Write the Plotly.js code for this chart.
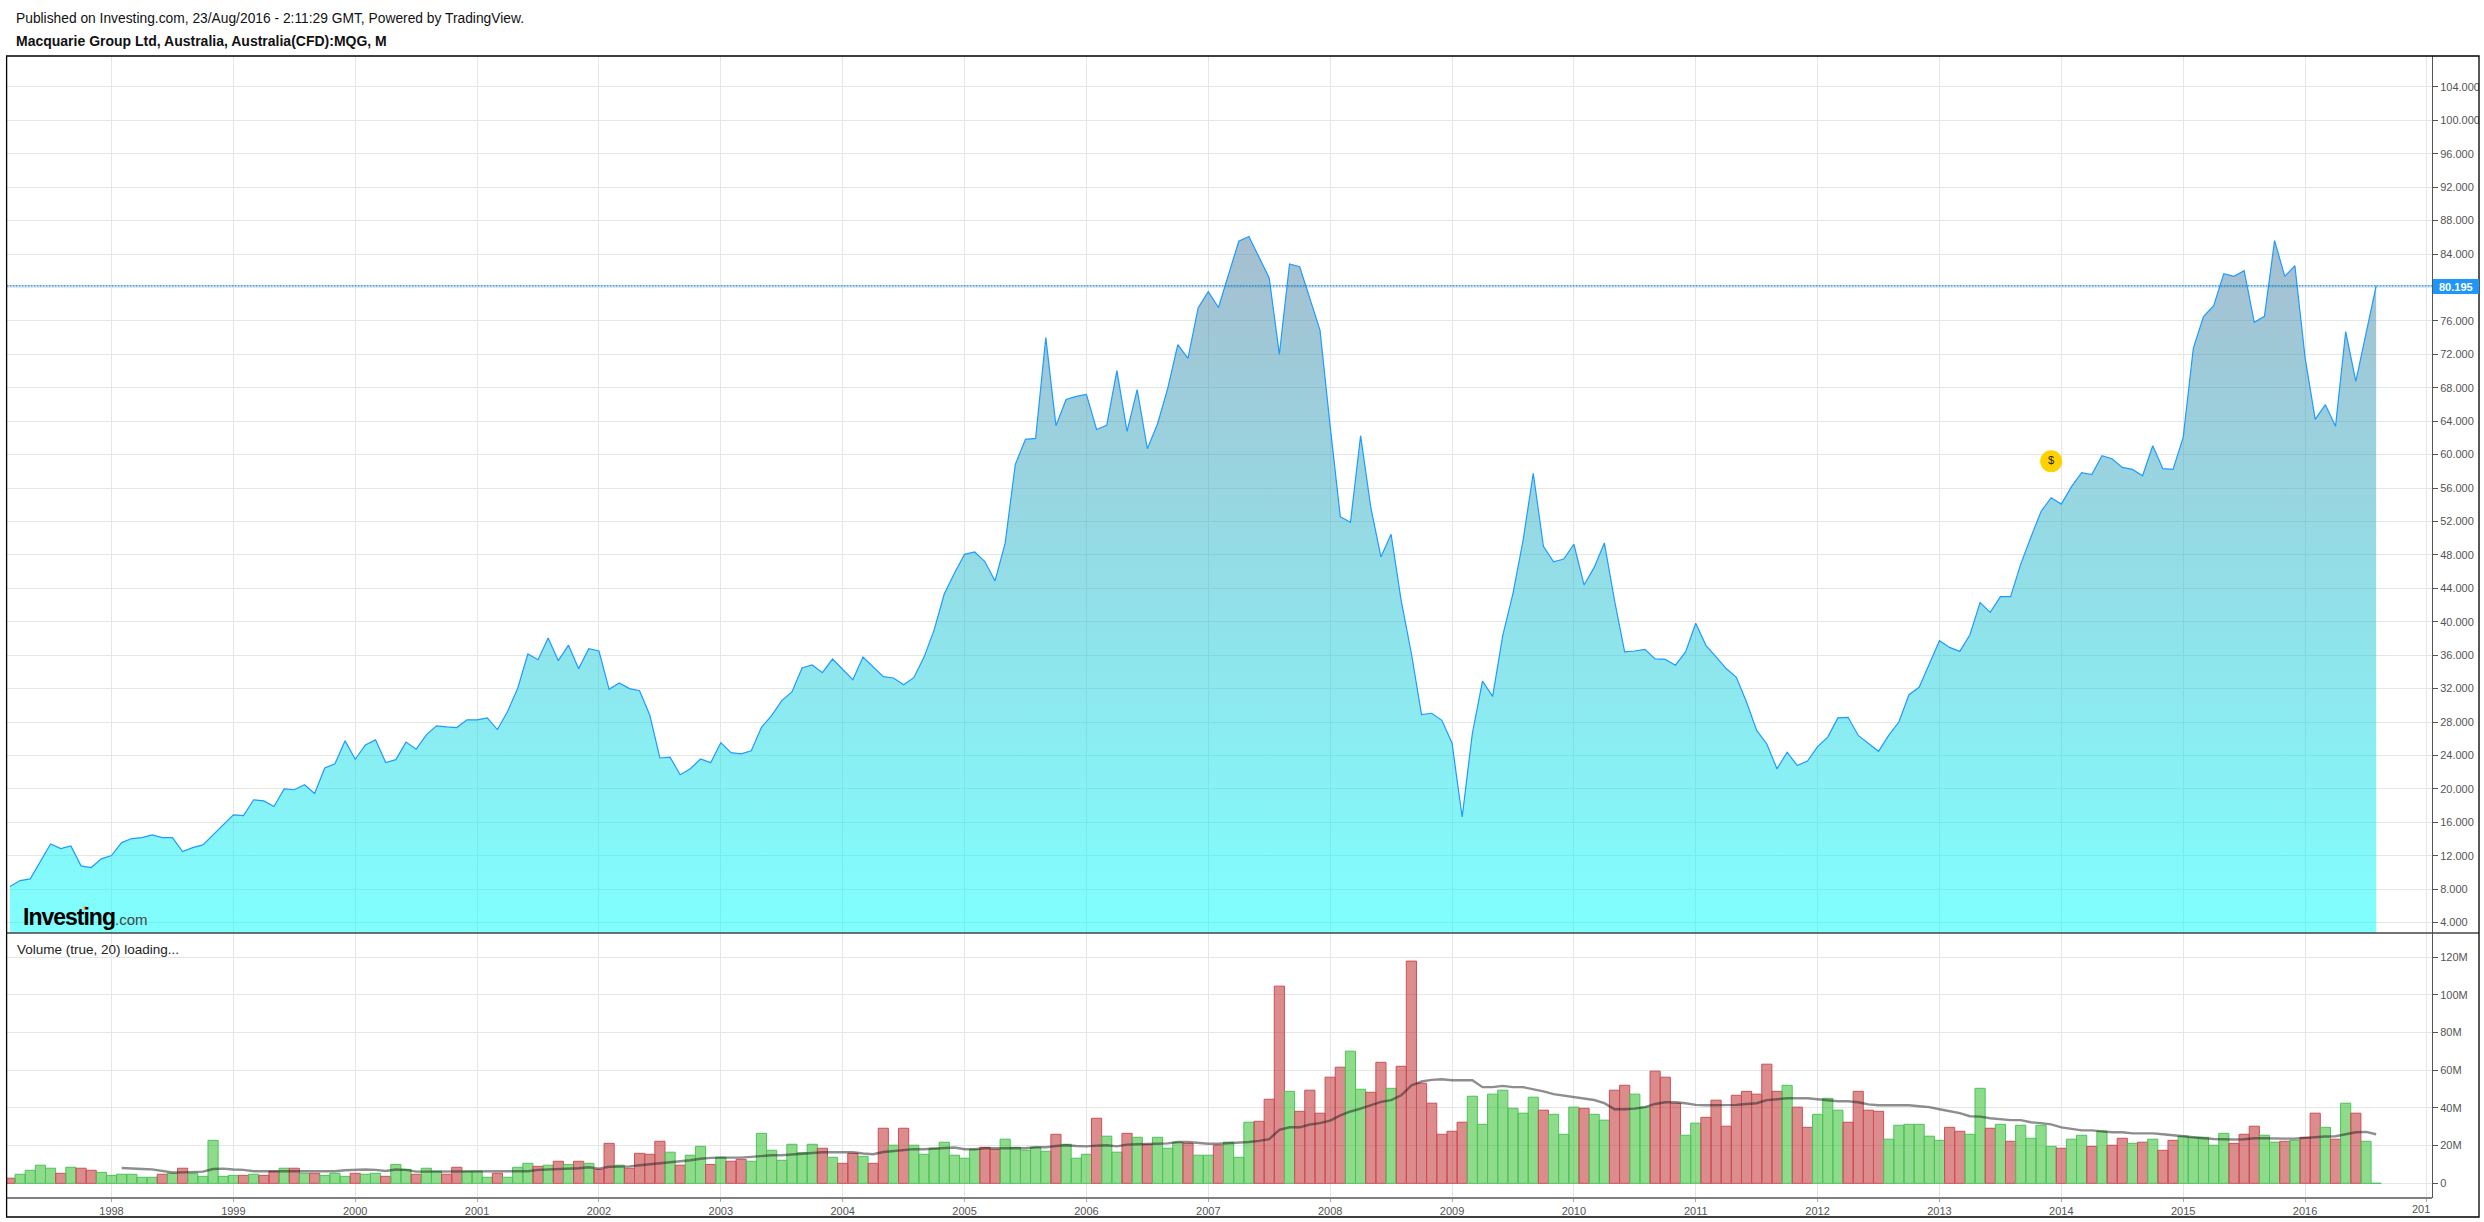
<!DOCTYPE html>
<html>
<head>
<meta charset="utf-8">
<script src="https://cdn.plot.ly/plotly-3.0.1.min.js"></script>
<style>html,body{margin:0;padding:0;background:#fff;overflow:hidden}#chart{width:2484px;height:1222px}</style>
</head>
<body>
<div id="chart"></div>
<script>
// Monthly closes, Mar 1997 .. Aug 2016
const closePrices = [
8.32,9.03,9.23,11.31,13.42,12.87,13.18,10.79,10.59,11.63,
12.03,13.58,14.06,14.18,14.5,14.18,14.18,12.5,12.98,13.3,
14.5,15.7,16.9,16.8,18.7,18.57,17.9,20.0,19.9,20.5,
19.45,22.5,23.0,25.75,23.55,25.27,25.87,23.15,23.5,25.6,
24.75,26.47,27.54,27.42,27.34,28.26,28.26,28.5,27.1,29.26,
32.05,36.14,35.46,38.06,35.34,37.2,34.39,36.78,36.5,31.91,
32.67,32.0,31.75,28.84,23.7,23.8,21.7,22.42,23.58,23.14,
25.53,24.33,24.2,24.57,27.37,28.76,30.56,31.6,34.47,34.83,
33.9,35.54,34.3,33.07,35.78,34.63,33.43,33.27,32.47,33.31,
35.74,39.0,43.32,45.8,48.07,48.35,47.2,44.88,49.4,58.84,
61.82,61.94,73.99,63.46,66.6,66.97,67.2,63.0,63.5,70.04,
62.78,67.77,60.7,63.66,67.9,73.15,71.5,77.54,79.5,77.6,
81.6,85.52,86.1,83.6,81.13,72.0,82.8,82.48,78.8,74.9,
63.4,52.57,51.9,62.26,53.7,47.75,50.47,42.5,36.2,28.9,
29.05,28.2,25.5,16.64,26.6,32.9,31.08,38.38,43.37,49.75,
57.77,49.03,47.16,47.5,49.27,44.4,46.5,49.43,42.57,36.39,
36.5,36.7,35.55,35.5,34.8,36.39,39.82,37.18,35.8,34.4,
33.35,30.4,27.0,25.38,22.4,24.38,22.8,23.34,25.06,26.2,
28.5,28.57,26.4,25.4,24.5,26.4,28.0,31.27,32.15,34.94,
37.73,36.93,36.45,38.45,42.28,41.12,43.0,43.0,46.9,50.1,
53.2,54.84,54.08,56.16,57.83,57.6,59.87,59.5,58.47,58.23,
57.47,61.06,58.31,58.23,62.06,72.75,76.5,77.82,81.65,81.33,
82.0,75.82,76.54,85.6,81.33,82.6,71.63,64.22,65.97,63.38,
74.7,68.76,74.4,80.195
];
// Monthly volume, millions
const volumes = [
2.7,4.8,6.9,9.6,8,5.3,8.5,8,6.9,5.8,
4.2,4.8,4.8,3.2,3.2,4.8,5.3,8,5.3,3.7,
22.8,3.7,4.2,4.2,4.8,4.2,6.4,8,8,5.3,
5.3,4.2,5.3,3.7,5.3,4.8,5.3,3.7,10,7.4,
4.8,8,6.4,4.8,8.5,6.4,6.4,3.2,5.3,3.2,
8.5,10.6,9,9.6,11.7,10,11.7,10.6,7.4,21.2,
9.6,8,15.9,15.4,22.3,16.5,9.6,14.9,19.6,10,
13.8,11.7,12.7,11.7,26.5,17.5,12.2,20.7,16.2,20.7,
18.6,13.8,10.6,15.9,14.3,10.6,29.2,20.2,29.2,20.2,
15.4,18.6,21.8,14.9,13.3,18,19.1,18,23.4,19.1,
17.5,19.1,17,26,20.7,13.3,15.4,34.5,25,16.5,
26.5,24.4,20.7,24.4,18.6,21.8,21.2,14.9,14.9,20.2,
21.8,13.8,32.4,32.9,44.6,104.6,48.8,38.2,49.4,37.2,
56.3,61.6,70.1,49.9,48.3,64.2,50.4,62.1,117.9,53.1,
42.5,26,27.6,32.4,46.2,31.3,47.3,49.4,39.8,37.2,
45.7,38.8,36.6,26,40.4,39.8,36.6,33.5,49.4,52,
47.3,40.4,59.5,56.3,42.5,25.5,31.9,35,44.1,30.3,
46.7,48.8,47.3,63.2,48.8,52,40.4,29.7,36.6,45.1,
38.8,32.4,48.8,38.8,38.2,23.4,30.8,31.3,31.3,25,
22.8,29.7,27.6,26,50.4,29.2,31.3,22.3,30.8,23.9,
30.8,19.6,18.6,23.4,25.5,19.6,27.6,20.2,23.9,21.2,
21.8,23.4,17.5,22.8,25,24.4,24.4,20.2,26.5,21.2,
26,30.3,25.5,21.8,22.3,22.8,24.4,37.2,29.7,23.4,
42.5,37.2,22.3,0
];
// Direction of each volume bar: g = up month, r = down month
const volumeDirection = (
"rggggrgrrg"+"gggggrgrgg"+"gggrgrrgrg"+"rgggrggrgg"+"rggrrgggrg"+
"ggrgrgrgrr"+"grrrrgrggr"+"grrggggggg"+"rgrrgrrgrg"+"ggggggrrgg"+
"gggrgggrgg"+"rgrgggrggr"+"gggrrrgrrr"+"rrggrrgrrr"+"rrrrgggggg"+
"grgggrggrr"+"ggrrrggrrr"+"rrrrrgrrgg"+"grrrrggggg"+"grrggrgrgg"+
"ggrggrgrrg"+"rgrrgggggr"+"rrggrgrrgr"+"grgg").split("");
// Volume moving average (millions), from month 11 onward
const maFirstMonth = 11;
const volumeMA = [
8.1,8.0,7.6,7.4,6.5,5.7,5.8,6.0,6.2,7.6,7.8,7.3,7.1,6.4,
6.4,6.4,6.4,6.4,6.4,6.4,6.4,6.4,6.9,7.3,7.3,7.1,6.5,7.3,7.1,
6.2,6.2,6.2,6.2,6.2,6.2,6.2,6.2,6.2,6.2,6.2,6.4,7.1,7.3,7.4,7.4,
8.0,8.5,7.8,8.8,9.0,9.0,9.6,10.1,10.6,11.2,11.7,12.2,13.0,13.5,
13.6,13.5,13.6,14.0,14.5,14.9,14.9,15.4,15.9,16.1,16.5,
16.5,16.5,16.5,15.8,15.4,16.6,17.2,17.7,18.1,18.1,18.4,18.6,19.0,
18.1,18.1,18.6,18.6,18.6,18.6,18.6,19.1,19.1,19.8,20.2,19.8,19.6,
20.0,20.2,19.6,20.5,20.7,20.7,21.0,21.2,21.9,21.9,21.4,21.0,21.0,
21.2,21.4,21.9,22.5,23.4,28.3,29.7,29.7,31.2,31.9,33.3,36.0,38.1,
39.6,41.4,43.2,44.1,46.7,51.9,54.0,54.9,55.2,54.7,54.7,54.7,51.0,
51.0,51.7,51.0,51.0,50.1,48.8,47.3,46.5,45.8,44.9,44.2,42.5,39.3,
39.3,39.6,40.4,42.1,
43.0,43.0,42.5,41.6,41.4,41.4,41.4,41.6,42.1,42.5,44.1,44.6,45.1,
45.1,45.1,44.6,44.1,43.5,43.5,43.0,41.9,41.4,41.4,41.4,41.4,40.9,
40.4,39.3,38.2,37.2,35.6,35.4,34.5,34.0,33.5,33.5,32.4,31.9,31.3,
29.7,28.7,28.1,28.1,27.6,27.1,27.1,26.5,26.5,26.5,26.0,25.5,24.6,
24.4,23.9,23.5,23.2,23.2,23.4,23.9,23.9,23.7,23.7,23.7,24.1,24.8,
24.8,25.0,26.2,27.1,27.3,26.0
];
const lastPrice = 80.195;
const lastPriceLabel = "80.195";
const priceTicks = [4,8,12,16,20,24,28,32,36,40,44,48,52,56,60,64,68,72,76,80,84,88,92,96,100,104];
const volumeTicks = [0,20,40,60,80,100,120];
const volumeTickText = ["0","20M","40M","60M","80M","100M","120M"];
const yearTicks = [10,22,34,46,58,70,82,94,106,118,130,142,154,166,178,190,202,214,226,238];
const yearLabels = ["1998","1999","2000","2001","2002","2003","2004","2005","2006","2007","2008","2009","2010","2011","2012","2013","2014","2015","2016",""];
const clippedYearLabel = "201";
const dividendMonth = 201, dividendLevel = 59.2, dividendMark = "$";
const publishedText = "Published on Investing.com, 23/Aug/2016 - 2:11:29 GMT, Powered by TradingView.";
const chartTitle = "Macquarie Group Ltd, Australia, Australia(CFD):MQG, M";
const volumeLegend = "Volume (true, 20) loading...";

const W = 2484, H = 1222;
const px = x => x / W, py = y => 1 - y / H;
const months = closePrices.map((_, i) => i);
const FONT = '"Liberation Sans", Arial, sans-serif';
const GRID = '#e6e6e6', AXIS = '#555555';

const traces = [
  {type:'scatter', mode:'lines', x:months, y:closePrices, xaxis:'x', yaxis:'y',
   line:{color:'#1e9bff', width:1.2}, fill:'tozeroy',
   fillgradient:{type:'vertical', start:2.76, stop:86.1,
     colorscale:[[0,'rgba(0,255,255,0.5)'],[1,'rgba(76,125,160,0.5)']]},
   hoverinfo:'skip'},
  {type:'scatter', mode:'markers+text', x:[dividendMonth], y:[dividendLevel], xaxis:'x', yaxis:'y',
   marker:{size:22, color:'#ffd100'}, text:[dividendMark], textposition:'middle center',
   textfont:{family:FONT, size:11, color:'#222'}, hoverinfo:'skip'},
  {type:'bar', x:months, y:volumes, xaxis:'x', yaxis:'y2', width:1,
   marker:{color:volumeDirection.map(d => d==='g' ? 'rgba(29,183,25,0.5)' : 'rgba(185,25,25,0.5)'),
           line:{width:1, color:volumeDirection.map(d => d==='g' ? '#4cc45a' : '#cc5058')}},
   hoverinfo:'skip'},
  {type:'scatter', mode:'lines', x:volumeMA.map((_, i) => i + maFirstMonth), y:volumeMA, xaxis:'x', yaxis:'y2',
   line:{color:'rgba(30,30,30,0.5)', width:2.4}, hoverinfo:'skip'}
];

const layout = {
  width:W, height:H, autosize:false, showlegend:false,
  margin:{l:0,r:0,t:0,b:0,pad:0}, paper_bgcolor:'#fff', plot_bgcolor:'#fff',
  font:{family:FONT, size:11, color:'#555'}, bargap:0,
  xaxis:{domain:[px(6.6),px(2432)], range:[-0.33,238.5], anchor:'y2',
    tickmode:'array', tickvals:yearTicks, ticktext:yearLabels,
    showgrid:true, gridcolor:GRID, gridwidth:1, zeroline:false, showline:false,
    ticks:'outside', ticklen:3, tickcolor:'#aaa', tickfont:{family:FONT,size:11,color:'#555'}},
  yaxis:{domain:[py(933),py(56)], range:[2.76,107.69], anchor:'x', side:'right',
    tickmode:'array', tickvals:priceTicks, tickformat:'.3f',
    showgrid:true, gridcolor:GRID, gridwidth:1, zeroline:false, showline:true, linecolor:AXIS, linewidth:1,
    ticks:'outside', ticklen:5, tickcolor:AXIS, tickfont:{family:FONT,size:11,color:'#555'}},
  yaxis2:{domain:[py(1198),py(933)], range:[-7.8,132.8], anchor:'x', side:'right',
    tickmode:'array', tickvals:volumeTicks, ticktext:volumeTickText,
    showgrid:true, gridcolor:GRID, gridwidth:1, zeroline:false, showline:true, linecolor:AXIS, linewidth:1,
    ticks:'outside', ticklen:5, tickcolor:AXIS, tickfont:{family:FONT,size:11,color:'#555'}},
  shapes:[
    {type:'line', xref:'x', yref:'y', x0:-0.33, x1:238.5, y0:lastPrice, y1:lastPrice,
     line:{color:'#0a84e0', width:1.2, dash:'2px,1px'}},
    {type:'line', xref:'paper', yref:'paper', x0:px(6.6), x1:px(2479), y0:py(933), y1:py(933), line:{color:'#444', width:1.3}},
    {type:'line', xref:'paper', yref:'paper', x0:px(6.6), x1:px(2432), y0:py(1198), y1:py(1198), line:{color:'#555', width:1.3}},
    {type:'rect', xref:'paper', yref:'paper', x0:px(2479), x1:1, y0:py(56), y1:py(1217), fillcolor:'#fff', line:{width:0}},
    {type:'rect', xref:'paper', yref:'paper', x0:px(6.6), x1:px(2479), y0:py(56), y1:py(1217), line:{color:'#000', width:1.3}},
    {type:'rect', xref:'paper', yref:'paper', x0:px(2433), x1:px(2479), y0:py(279), y1:py(294), fillcolor:'#1e96fc', line:{width:0}},
    {type:'circle', xref:'paper', yref:'paper', x0:px(83.5), x1:px(86.5), y0:py(910), y1:py(906), fillcolor:'#f5a623', line:{width:0}}
  ],
  annotations:[
    {xref:'paper', yref:'paper', x:px(14), y:py(18), xanchor:'left', yanchor:'middle', showarrow:false,
     text:publishedText, font:{family:FONT,size:13.8,color:'#111'}},
    {xref:'paper', yref:'paper', x:px(14), y:py(41), xanchor:'left', yanchor:'middle', showarrow:false,
     text:'<b>'+chartTitle+'</b>', font:{family:FONT,size:14,color:'#111'}},
    {xref:'paper', yref:'paper', x:px(15), y:py(949.5), xanchor:'left', yanchor:'middle', showarrow:false,
     text:volumeLegend, font:{family:FONT,size:13.5,color:'#222'}},
    {xref:'paper', yref:'paper', x:px(2456), y:py(286.5), xanchor:'center', yanchor:'middle', showarrow:false,
     text:'<b>'+lastPriceLabel+'</b>', font:{family:FONT,size:11,color:'#fff'}},
    {xref:'paper', yref:'paper', x:px(2432), y:py(1208.5), xanchor:'right', yanchor:'middle', showarrow:false,
     text:clippedYearLabel, font:{family:FONT,size:11,color:'#555'}},
    {xref:'paper', yref:'paper', x:px(21), y:py(917), xanchor:'left', yanchor:'middle', showarrow:false,
     text:'<b style="letter-spacing:-1px">Investing</b><span style="font-size:15px;color:#444">.com</span>',
     font:{family:FONT,size:23,color:'#000'}}
  ]
};
Plotly.newPlot('chart', traces, layout, {displayModeBar:false, staticPlot:true});
</script>
</body>
</html>
